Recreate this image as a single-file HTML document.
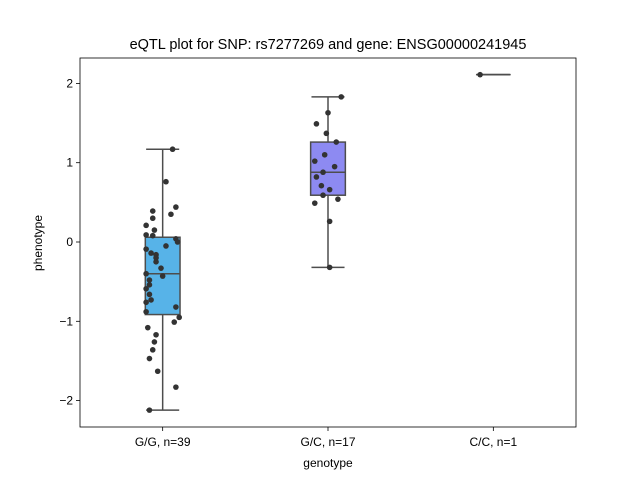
<!DOCTYPE html>
<html><head><meta charset="utf-8"><style>body{margin:0;background:#fff}svg{display:block;font-family:"Liberation Sans","DejaVu Sans",sans-serif}</style></head>
<body>
<svg id="c" width="640" height="480"></svg>
<script>
const categories=["G/G, n=39","G/C, n=17","C/C, n=1"];
const g1Values=[1.17,0.76,0.44,0.39,0.35,0.30,0.21,0.15,0.09,0.08,0.04,0.00,-0.05,-0.16,-0.20,-0.25,-0.09,-0.14,-0.33,-0.43,-0.40,-0.48,-0.54,-0.59,-0.66,-0.73,-0.76,-0.88,-0.82,-0.95,-1.01,-1.08,-1.17,-1.26,-1.36,-1.47,-1.63,-1.83,-2.12];
const g1Jitter=[0.06,0.02,0.08,-0.06,0.05,-0.06,-0.10,-0.05,-0.10,-0.06,0.08,0.09,0.02,-0.04,-0.04,-0.04,-0.10,-0.07,-0.01,0,-0.10,-0.08,-0.08,-0.10,-0.08,-0.07,-0.10,-0.10,0.08,0.10,0.07,-0.09,-0.04,-0.05,-0.06,-0.08,-0.03,0.08,-0.08];
const g2Values=[1.83,1.63,1.49,1.37,1.26,1.10,1.02,0.95,0.88,0.82,0.71,0.66,0.59,0.54,0.49,0.26,-0.32];
const g2Jitter=[0.08,0,-0.07,-0.01,0.05,-0.02,-0.08,0.04,-0.03,-0.07,-0.04,0.01,-0.03,0.06,-0.08,0.01,0.01];
const g3Values=[2.11];
const g3Jitter=[-0.08];
const yTicks=[-2,-1,0,1,2];
const groups=[[g1Values,g1Jitter],[g2Values,g2Jitter],[g3Values,g3Jitter]];
const colors=["#57b3e8","#8d8af2","#b98ff0"];
const NS="http://www.w3.org/2000/svg",svg=document.getElementById('c');
const L=80,R=576,T=58,B=427;
const y=v=>242-v*79.3;
const x=i=>L+(i+0.5)*(R-L)/3;
const band=(R-L)/3;
function mk(t,a,p){const e=document.createElementNS(NS,t);for(const k in a)e.setAttribute(k,a[k]);(p||svg).appendChild(e);return e;}
function q(s,p){const pos=(s.length-1)*p,lo=Math.floor(pos),hi=Math.ceil(pos);return s[lo]+(s[hi]-s[lo])*(pos-lo);}
groups.forEach((g,i)=>{
  const s=[...g[0]].sort((a,b)=>a-b);
  const q1=q(s,0.25),md=q(s,0.5),q3=q(s,0.75),iqr=q3-q1;
  const lo=Math.min(...s.filter(v=>v>=q1-1.5*iqr)),hi=Math.max(...s.filter(v=>v<=q3+1.5*iqr));
  const cx=x(i),hw=band*0.105,cw=band*0.1;
  const gr=mk('g',{});
  
  
  mk('line',{x1:cx,x2:cx,y1:y(hi),y2:y(q3),stroke:'#4d4d4d','stroke-width':1.5},gr);
  mk('line',{x1:cx,x2:cx,y1:y(q1),y2:y(lo),stroke:'#4d4d4d','stroke-width':1.5},gr);
  mk('line',{x1:cx-cw,x2:cx+cw,y1:y(hi),y2:y(hi),stroke:'#4d4d4d','stroke-width':1.5},gr);
  mk('line',{x1:cx-cw,x2:cx+cw,y1:y(lo),y2:y(lo),stroke:'#4d4d4d','stroke-width':1.5},gr);
  mk('rect',{x:cx-hw,y:y(q3),width:2*hw,height:Math.max(0,y(q1)-y(q3)),fill:colors[i],stroke:'#4d4d4d','stroke-width':1.5},gr);
  mk('line',{x1:cx-hw,x2:cx+hw,y1:y(md),y2:y(md),stroke:'#4d4d4d','stroke-width':1.5},gr);
  g[0].forEach((v,j)=>{const c=mk('circle',{cx:cx+g[1][j]*band,cy:y(v),r:2.8,fill:'#333'});
    
    });
  const t=mk('text',{x:cx,y:446,'font-size':12,'text-anchor':'middle',fill:'#000'});t.textContent=categories[i];
  
  
  mk('line',{x1:cx,x2:cx,y1:B,y2:B+4,stroke:'#000','stroke-width':0.8});
});
yTicks.forEach(v=>{
  mk('line',{x1:L-4,x2:L,y1:y(v),y2:y(v),stroke:'#000','stroke-width':0.8});
  const t=mk('text',{x:L-7,y:y(v)+4,'font-size':12,'text-anchor':'end'});t.textContent=v<0?'\u2212'+(-v):v;
  
  
});
const f=mk('rect',{x:L,y:T,width:R-L,height:B-T,fill:'none',stroke:'#000','stroke-width':0.8});


let t=mk('text',{x:328,y:49,'font-size':14.5,'text-anchor':'middle'});t.textContent='eQTL plot for SNP: rs7277269 and gene: ENSG00000241945';

t=mk('text',{x:328,y:467,'font-size':12,'text-anchor':'middle'});t.textContent='genotype';

t=mk('text',{x:42,y:243,'font-size':12,'text-anchor':'middle',transform:'rotate(-90 42 243)'});t.textContent='phenotype';

</script>
</body></html>
